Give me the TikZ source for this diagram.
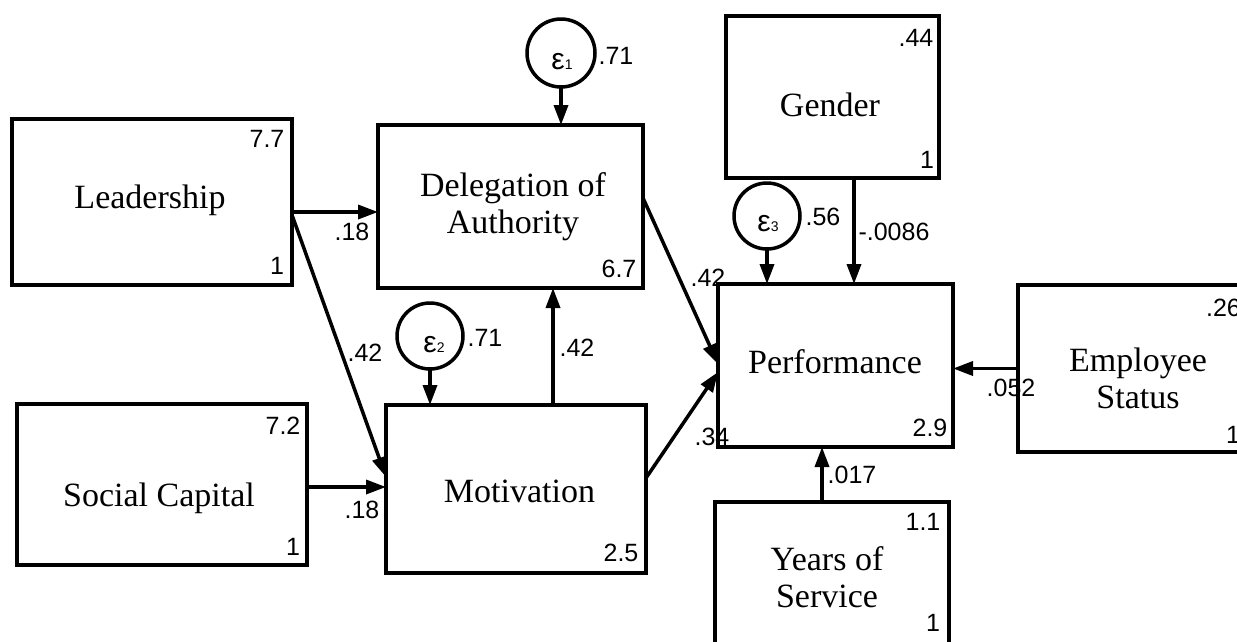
\documentclass[tikz,border=0pt]{standalone}
\usepackage{fontspec}
\setmainfont{Liberation Serif}
\newfontfamily\numf{Liberation Sans}
\usetikzlibrary{arrows.meta}
\begin{document}
\begin{tikzpicture}[x=1pt,y=-1pt,
  box/.style={draw,line width=3.5pt,rectangle,inner sep=0pt,outer sep=0pt},
  boxtext/.style={inner sep=0pt,align=center,font=\fontsize{34}{37}\selectfont},
  err/.style={draw,line width=3.5pt,circle,inner sep=0pt,outer sep=0pt,minimum size=66pt},
  errtext/.style={inner sep=0pt,font=\numf\fontsize{30}{30}\selectfont},
  num/.style={inner sep=0pt,font=\numf\fontsize{25}{25}\selectfont},
  arr/.style={line width=3.5pt,-{Triangle[length=20pt,width=14pt]}},
]
\clip (0,0) rectangle (1237,641);
\fill[white] (0,0) rectangle (1237,641);

% boxes
\node[box,minimum width=280pt,minimum height=166pt] (lead) at (152,202) {};
\node[box,minimum width=290pt,minimum height=161pt] (soc) at (162,484.5) {};
\node[box,minimum width=265pt,minimum height=163pt] (dele) at (510.5,206.5) {};
\node[box,minimum width=260pt,minimum height=168pt] (moti) at (516,489) {};
\node[box,minimum width=213pt,minimum height=162pt] (gend) at (832.5,97) {};
\node[box,minimum width=235pt,minimum height=163pt] (perf) at (835.5,365.5) {};
\node[box,minimum width=240pt,minimum height=167pt] (emp) at (1138,368.5) {};
\node[box,minimum width=234pt,minimum height=166pt] (yos) at (832,585) {};

% box texts
\node[boxtext] (leadT) at (150,200) {Leadership};
\node[boxtext] (socT) at (159,498) {Social Capital};
\node[boxtext] (deleT) at (513,206.5) {Delegation of\\Authority};
\node[boxtext] (motiT) at (519.5,491) {Motivation};
\node[boxtext] (gendT) at (830,105) {Gender};
\node[boxtext] (perfT) at (835,362) {Performance};
\node[boxtext] (empT) at (1138,378.5) {Employee\\Status};
\node[boxtext] (yosT) at (827,577.5) {Years of\\Service};

% corner numbers
\node[num] (leadA) at (267,139) {7.7};
\node[num] (leadB) at (277,266) {1};
\node[num] (socA) at (283,426) {7.2};
\node[num] (socB) at (293,547) {1};
\node[num] (deleA) at (619,269) {6.7};
\node[num] (motiA) at (621,553) {2.5};
\node[num] (gendA) at (916,38) {.44};
\node[num] (gendB) at (927,160) {1};
\node[num] (perfA) at (930,428) {2.9};
\node[num] (empA) at (1223.5,308) {.26};
\node[num] (empB) at (1233,435) {1};
\node[num] (yosA) at (923,522) {1.1};
\node[num] (yosB) at (933,623) {1};

% error terms
\node[err,minimum size=68pt] (e1) at (561,53) {};
\node[err] (e2) at (430,336) {};
\node[err] (e3) at (767,216) {};
\node[errtext] (e1T) at (562,62) {ε\fontsize{14}{14}\selectfont 1};
\node[errtext] (e2T) at (434,345) {ε\fontsize{14}{14}\selectfont 2};
\node[errtext] (e3T) at (768,224) {ε\fontsize{14}{14}\selectfont 3};
\node[num] (e1V) at (616,56) {.71};
\node[num] (e2V) at (485,338) {.71};
\node[num] (e3V) at (823,217) {.56};

% connector helper coordinates
\coordinate (g1) at ([xshift=21.5pt]gend.south);
\coordinate (m1) at ([xshift=37pt]moti.north);
\coordinate (s1) at ([yshift=-2.5pt]soc.east);
\coordinate (y1) at ([xshift=-10pt]yos.north);
\coordinate (l1) at ([yshift=-10pt]lead.east);

% connectors
\draw[arr] (e1.south) -- (e1.south |- dele.north);
\draw[arr] (e2.south) -- (e2.south |- moti.north);
\draw[arr] (e3.south) -- (e3.south |- perf.north);
\draw[arr] (g1) -- (g1 |- perf.north);
\draw[arr] (m1) -- (m1 |- dele.south);
\draw[arr] (l1) -- (l1 -| dele.west);
\draw[arr] ([yshift=-13pt]lead.east) -- ([yshift=12pt]moti.west);
\draw[arr] (s1) -- (s1 -| moti.west);
\draw[arr] ([yshift=8.5pt]dele.east) -- ([yshift=1.5pt]perf.west);
\draw[arr] ([yshift=11pt]moti.east) -- ([yshift=-6.5pt]perf.west);
\draw[arr] (emp.west) -- (emp.west -| perf.east);
\draw[arr] (y1) -- (y1 |- perf.south);

% path labels
\node[num] (p1) at (352,232) {.18};
\node[num] (p2) at (365,353) {.42};
\node[num] (p3) at (362,510) {.18};
\node[num] (p4) at (577,348) {.42};
\node[num] (p5) at (708,278) {.42};
\node[num] (p6) at (712,437) {.34};
\node[num] (p7) at (894,232) {-.0086};
\node[num] (p8) at (1011,388) {.052};
\node[num] (p9) at (852,475) {.017};
\end{tikzpicture}
\end{document}
